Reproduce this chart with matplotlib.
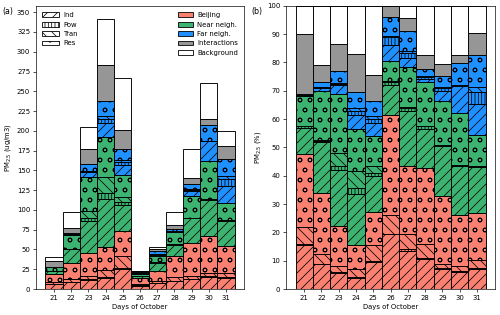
import matplotlib
matplotlib.use('Agg')
import matplotlib.pyplot as plt
from matplotlib.patches import Patch
import numpy as np

plt.rcParams['font.size'] = 8.3
plt.rcParams['hatch.linewidth'] = 0.9

days = [21, 22, 23, 24, 25, 26, 27, 28, 29, 30, 31]
# total PM2.5 (ug/m3)
total = [40, 97, 205, 341, 267, 23, 53, 98, 177, 260, 200]

# shares (%) by source region and sector
bj_ind = [15.5, 8.7, 5.5, 4.0, 9.7, 19.3, 13.5, 10.5, 7.0, 6.0, 7.0]
bj_pow = [0.4, 0.3, 0.5, 0.3, 0.3, 0.3, 0.5, 0.3, 0.5, 0.3, 0.3]
bj_tran = [5.9, 3.5, 2.0, 2.7, 5.5, 6.4, 5.5, 5.0, 1.5, 1.7, 3.0]
bj_res = [25.7, 21.5, 14.3, 8.5, 11.8, 35.5, 24.0, 27.0, 23.7, 18.0, 16.7]
near_ind = [9.5, 18.0, 19.7, 18.0, 12.7, 10.5, 19.5, 13.7, 17.8, 17.3, 16.0]
near_pow = [0.5, 0.3, 1.5, 2.0, 1.0, 1.0, 1.0, 1.0, 0.3, 0.3, 0.3]
near_tran = [0.2, 0.2, 4.5, 6.0, 2.5, 0.3, 0.2, 0.2, 0.1, 0.1, 0.1]
near_res = [10.3, 17.5, 21.0, 15.0, 10.5, 7.2, 14.3, 15.3, 15.4, 18.6, 10.9]
far_ind = [0.3, 1.0, 3.0, 5.0, 4.5, 5.5, 3.0, 1.0, 3.5, 9.5, 11.0]
far_pow = [0.2, 0.3, 0.5, 1.5, 1.5, 3.0, 2.0, 1.0, 1.2, 0.2, 4.2]
far_tran = [0.1, 0.2, 0.3, 1.0, 1.0, 0.5, 0.5, 0.3, 0.3, 0.1, 2.0]
far_res = [0.4, 1.5, 4.2, 5.7, 5.3, 6.7, 7.0, 2.5, 4.0, 7.7, 11.0]
interact = [21.0, 6.0, 9.5, 13.3, 9.2, 3.8, 4.6, 4.7, 4.0, 3.0, 7.8]
backgr = [10.0, 21.0, 13.5, 17.0, 24.5, 0.0, 4.4, 17.5, 20.7, 17.2, 9.7]

c_bj = '#fa8072'
c_near = '#3cb371'
c_far = '#1e90ff'
c_int = '#969696'
c_bg = 'white'
h_ind, h_pow, h_tran, h_res = '//', '|||', '\\\\', 'o'

segments = [
    (bj_ind, c_bj, h_ind), (bj_pow, c_bj, h_pow), (bj_tran, c_bj, h_tran), (bj_res, c_bj, h_res),
    (near_ind, c_near, h_ind), (near_pow, c_near, h_pow), (near_tran, c_near, h_tran), (near_res, c_near, h_res),
    (far_ind, c_far, h_ind), (far_pow, c_far, h_pow), (far_tran, c_far, h_tran), (far_res, c_far, h_res),
    (interact, c_int, None), (backgr, c_bg, None),
]

fig = plt.figure(figsize=(500 / 60, 315 / 60), dpi=60)
ax1 = fig.add_axes([0.072, 0.0825, 0.416, 0.899])
ax2 = fig.add_axes([0.572, 0.0825, 0.418, 0.899])

tot = np.array(total, dtype=float)


def draw(ax, scale):
    bottom = np.zeros(len(days))
    for vals, col, hat in segments:
        v = np.array(vals) * scale
        ax.bar(days, v, width=1.0, bottom=bottom, color=col, edgecolor='k',
               linewidth=1.1, hatch=hat)
        bottom = bottom + v
    ax.set_xticks(days)
    ax.set_xlabel('Days of October')


draw(ax1, tot / 100.0)
draw(ax2, 1.0)

ax1.set_yticks(np.arange(0, 351, 25))
ax1.set_ylabel('PM$_{2.5}$ (ug/m3)')
ax2.set_ylim(0, 100)
ax2.set_yticks(np.arange(0, 101, 10))
ax2.set_ylabel('PM$_{2.5}$ (%)')

sector_handles = [Patch(facecolor='white', edgecolor='k', hatch=h, label=l)
                  for h, l in [(h_ind, 'Ind'), (h_pow, 'Pow'), (h_tran, 'Tran'), (h_res, 'Res')]]
leg1 = ax1.legend(handles=sector_handles, loc='upper left', frameon=False,
                  handlelength=2.4, handletextpad=0.6)
ax1.add_artist(leg1)
region_handles = [Patch(facecolor=c, edgecolor='k', label=l)
                  for c, l in [(c_bj, 'Beijing'), (c_near, 'Near neigh.'), (c_far, 'Far neigh.'),
                               (c_int, 'Interactions'), (c_bg, 'Background')]]
ax1.legend(handles=region_handles, loc='upper right', frameon=False,
           handlelength=2.2, handletextpad=0.6)

fig.text(0.005, 0.965, '(a)', fontsize=9.5, va='center')
fig.text(0.503, 0.965, '(b)', fontsize=9.5, va='center')

fig.savefig('out.png', dpi=60)
